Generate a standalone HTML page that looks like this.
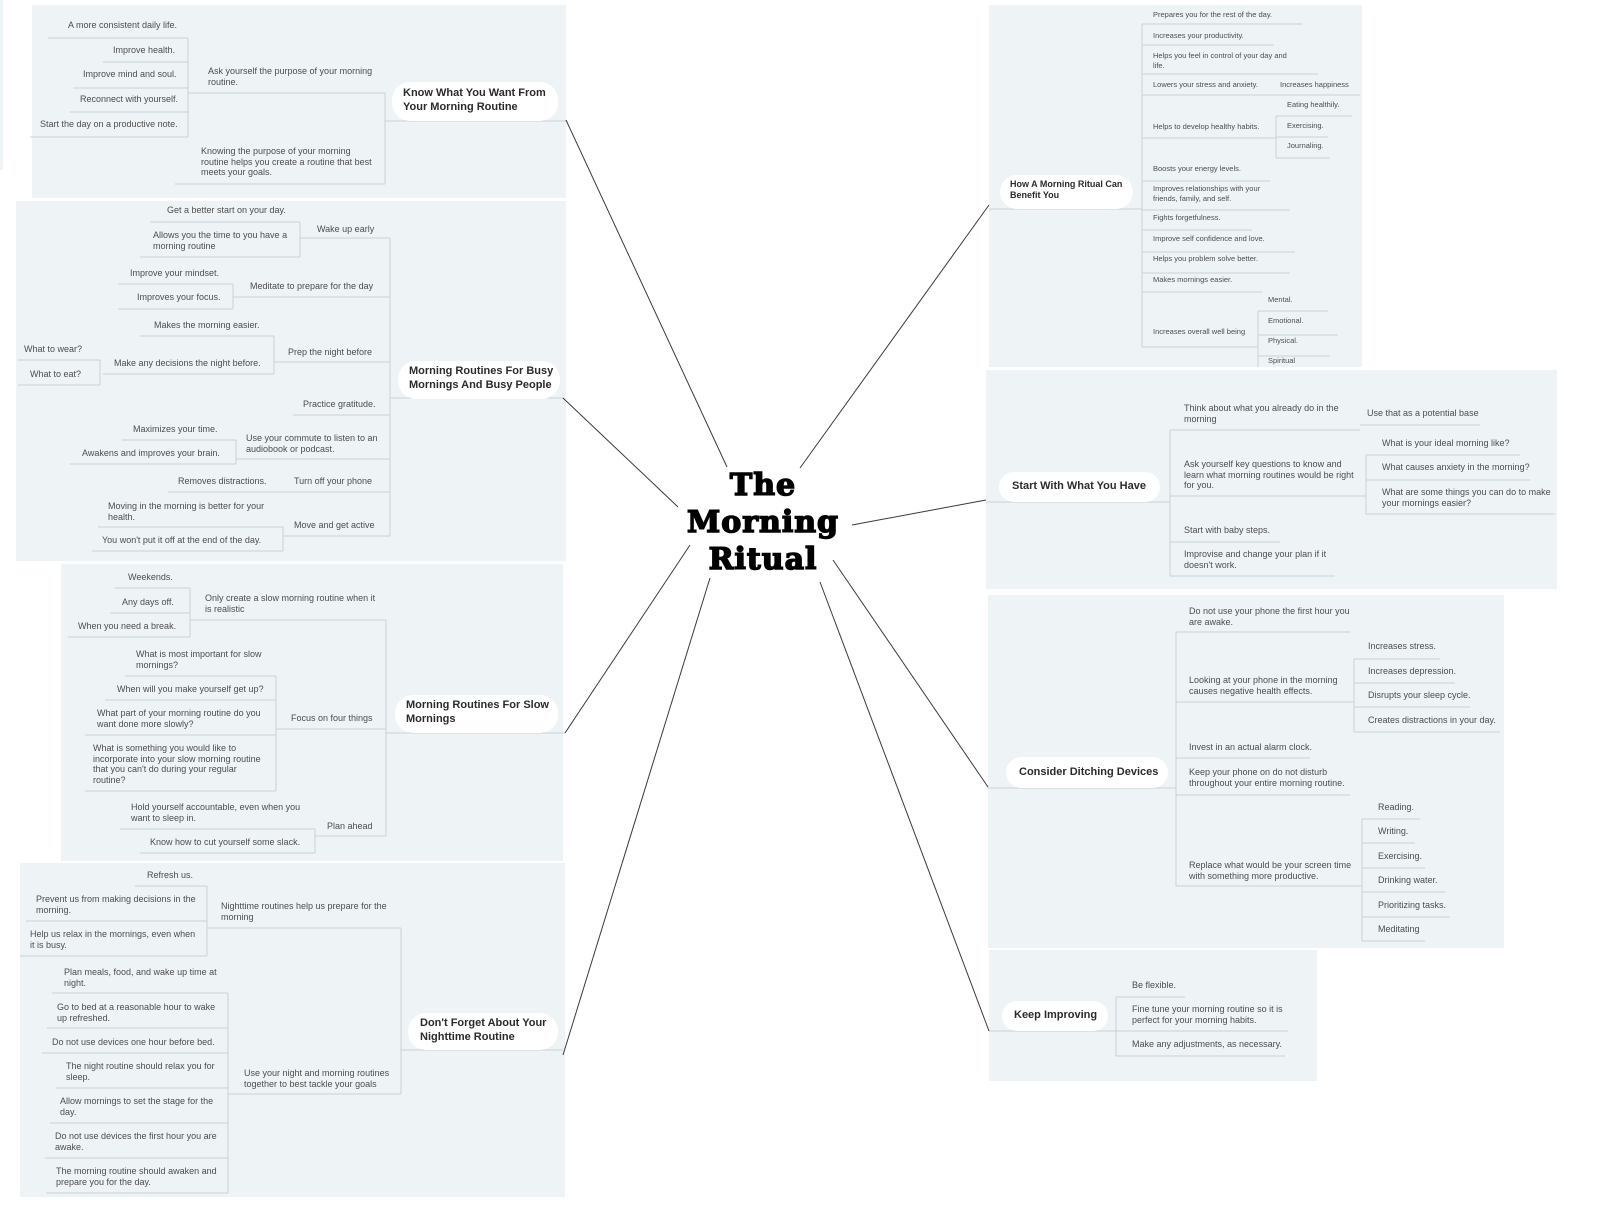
<!DOCTYPE html>
<html><head><meta charset="utf-8"><style>
body{margin:0;width:1600px;height:1228px;background:#fff;position:relative;overflow:hidden;font-family:"Liberation Sans",sans-serif}
.p{position:absolute;background:#eef3f6}
.pill{position:absolute;background:#fff;border-radius:18px}
.t{position:absolute;font-size:9px;line-height:10.5px;color:#4d4d4d;white-space:nowrap}
.s{position:absolute;font-size:7.5px;line-height:9.5px;color:#4d4d4d;white-space:nowrap}
.h{position:absolute;font-size:11px;line-height:13.5px;font-weight:bold;color:#2b2b2b;white-space:nowrap}
.c{position:absolute;left:663px;width:200px;text-align:center;font-family:"DejaVu Serif",serif;font-weight:bold;font-size:30px;line-height:37px;color:#000;-webkit-text-stroke:1.5px #000;letter-spacing:1px}
svg{position:absolute;left:0;top:0}
</style></head><body>
<div class="p" style="left:0;top:0;width:3px;height:170px"></div>
<div class="p" style="left:32px;top:5px;width:534px;height:193px"></div>
<div class="p" style="left:16px;top:201px;width:550px;height:360px"></div>
<div class="p" style="left:61px;top:564px;width:502px;height:297px"></div>
<div class="p" style="left:20px;top:863px;width:545px;height:334px"></div>
<div class="p" style="left:989px;top:5px;width:373px;height:362px"></div>
<div class="p" style="left:986px;top:370px;width:571px;height:219px"></div>
<div class="p" style="left:988px;top:595px;width:516px;height:353px"></div>
<div class="p" style="left:989px;top:950px;width:328px;height:131px"></div>

<svg width="1600" height="1228">
<g fill="none" stroke="#c9d0d4" stroke-width="1">
<path d="M48 38H188 M103 62H188 M73 88H188 M70 112H188 M30 137H188 M188 38V137 M188 93H385 M175 184H385 M385 93V184 M385 121H566"/>
<path d="M150 222H300 M140 257H300 M300 222V257 M300 238H390 M118 284H233 M118 309H233 M233 284V309 M233 297H390 M140 336H274 M103 374H274 M274 336V374 M274 362H390 M18 360H100 M18 385H100 M100 360V385 M293 415H390 M122 440H236 M70 464H236 M236 440V464 M236 459H390 M168 492H390 M98 527H283 M92 551H283 M283 527V551 M283 536H390 M390 238V536 M390 398H563"/>
<path d="M115 588H190 M110 613H190 M68 637H190 M190 588V637 M190 620H386 M125 676H276 M105 700H276 M85 735H276 M85 791H276 M276 676V791 M276 729H386 M120 829H315 M140 853H315 M315 829V853 M315 836H386 M386 620V836 M386 733H565"/>
<path d="M135 886H207 M26 921H207 M20 956H207 M207 886V956 M207 928H401 M52 993H228 M47 1028H228 M42 1053H228 M56 1088H228 M50 1123H228 M45 1158H228 M46 1193H228 M228 993V1193 M228 1094H401 M401 928V1094 M401 1050H563"/>
<path d="M989 209H1142 M1142 24V347 M1142 24H1302 M1142 45H1274 M1142 74H1318 M1142 95H1360 M1142 138H1276 M1276 116V158 M1276 116H1352 M1276 137H1328 M1276 158H1330 M1142 181H1270 M1142 210H1290 M1142 230H1252 M1142 252H1295 M1142 273H1290 M1142 292H1262 M1142 347H1258 M1258 311V367 M1258 311H1328 M1258 335H1338 M1258 356H1330"/>
<path d="M986 502H1170 M1170 430V576 M1170 430H1360 M1360 425H1480 M1170 496H1366 M1366 455V514 M1366 455H1520 M1366 480H1530 M1366 514H1555 M1170 542H1280 M1170 576H1335"/>
<path d="M988 788H1176 M1176 632V886 M1176 632H1350 M1176 702H1354 M1354 659V732 M1354 659H1440 M1354 683H1455 M1354 707H1470 M1354 732H1500 M1176 758H1310 M1176 795H1350 M1176 886H1362 M1362 819V941 M1362 819H1420 M1362 843H1415 M1362 868H1425 M1362 892H1445 M1362 917H1450 M1362 941H1425"/>
<path d="M989 1031H1116 M1116 997V1056 M1116 997H1185 M1116 1031H1288 M1116 1056H1285"/>
</g>
<g stroke="#3a3a3a" stroke-width="1">
<line x1="727" y1="467" x2="566" y2="120"/>
<line x1="678" y1="507" x2="563" y2="398"/>
<line x1="690" y1="545" x2="565" y2="733"/>
<line x1="710" y1="578" x2="563" y2="1055"/>
<line x1="800" y1="468" x2="989" y2="205"/>
<line x1="852" y1="525" x2="986" y2="500"/>
<line x1="833" y1="560" x2="988" y2="787"/>
<line x1="820" y1="582" x2="989" y2="1031"/>
</g>
</svg>

<div class="c" style="top:467px">The<br>Morning<br>Ritual</div>

<div class="pill" style="left:392px;top:82px;width:166px;height:39px"></div>
<div class="h" style="left:403px;top:87px">Know What You Want From<br>Your Morning Routine</div>
<div class="pill" style="left:398px;top:361px;width:162px;height:38px"></div>
<div class="h" style="left:409px;top:365px">Morning Routines For Busy<br>Mornings And Busy People</div>
<div class="pill" style="left:395px;top:695px;width:163px;height:38px"></div>
<div class="h" style="left:406px;top:699px">Morning Routines For Slow<br>Mornings</div>
<div class="pill" style="left:408px;top:1013px;width:150px;height:37px"></div>
<div class="h" style="left:420px;top:1017px">Don't Forget About Your<br>Nighttime Routine</div>
<div class="pill" style="left:1000px;top:175px;width:133px;height:34px"></div>
<div class="h" style="left:1010px;top:179px;font-size:9px;line-height:11px">How A Morning Ritual Can<br>Benefit You</div>
<div class="pill" style="left:999px;top:472px;width:161px;height:30px"></div>
<div class="h" style="left:1012px;top:480px">Start With What You Have</div>
<div class="pill" style="left:1006px;top:757px;width:162px;height:31px"></div>
<div class="h" style="left:1019px;top:766px">Consider Ditching Devices</div>
<div class="pill" style="left:1002px;top:1001px;width:106px;height:30px"></div>
<div class="h" style="left:1014px;top:1009px">Keep Improving</div>

<div class="t" style="left:68px;top:20px">A more consistent daily life.</div>
<div class="t" style="left:113px;top:45px">Improve health.</div>
<div class="t" style="left:83px;top:69px">Improve mind and soul.</div>
<div class="t" style="left:80px;top:94px">Reconnect with yourself.</div>
<div class="t" style="left:40px;top:119px">Start the day on a productive note.</div>
<div class="t" style="left:208px;top:66px">Ask yourself the purpose of your morning<br>routine.</div>
<div class="t" style="left:201px;top:146px">Knowing the purpose of your morning<br>routine helps you create a routine that best<br>meets your goals.</div>

<div class="t" style="left:167px;top:205px">Get a better start on your day.</div>
<div class="t" style="left:153px;top:230px">Allows you the time to you have a<br>morning routine</div>
<div class="t" style="left:317px;top:224px">Wake up early</div>
<div class="t" style="left:130px;top:268px">Improve your mindset.</div>
<div class="t" style="left:137px;top:292px">Improves your focus.</div>
<div class="t" style="left:250px;top:281px">Meditate to prepare for the day</div>
<div class="t" style="left:154px;top:320px">Makes the morning easier.</div>
<div class="t" style="left:24px;top:344px">What to wear?</div>
<div class="t" style="left:30px;top:369px">What to eat?</div>
<div class="t" style="left:114px;top:358px">Make any decisions the night before.</div>
<div class="t" style="left:288px;top:347px">Prep the night before</div>
<div class="t" style="left:303px;top:399px">Practice gratitude.</div>
<div class="t" style="left:133px;top:424px">Maximizes your time.</div>
<div class="t" style="left:82px;top:448px">Awakens and improves your brain.</div>
<div class="t" style="left:246px;top:433px">Use your commute to listen to an<br>audiobook or podcast.</div>
<div class="t" style="left:178px;top:476px">Removes distractions.</div>
<div class="t" style="left:294px;top:476px">Turn off your phone</div>
<div class="t" style="left:108px;top:501px">Moving in the morning is better for your<br>health.</div>
<div class="t" style="left:102px;top:535px">You won't put it off at the end of the day.</div>
<div class="t" style="left:294px;top:520px">Move and get active</div>

<div class="t" style="left:128px;top:572px">Weekends.</div>
<div class="t" style="left:122px;top:597px">Any days off.</div>
<div class="t" style="left:78px;top:621px">When you need a break.</div>
<div class="t" style="left:205px;top:593px">Only create a slow morning routine when it<br>is realistic</div>
<div class="t" style="left:136px;top:649px">What is most important for slow<br>mornings?</div>
<div class="t" style="left:117px;top:684px">When will you make yourself get up?</div>
<div class="t" style="left:97px;top:708px">What part of your morning routine do you<br>want done more slowly?</div>
<div class="t" style="left:93px;top:743px">What is something you would like to<br>incorporate into your slow morning routine<br>that you can't do during your regular<br>routine?</div>
<div class="t" style="left:291px;top:713px">Focus on four things</div>
<div class="t" style="left:131px;top:802px">Hold yourself accountable, even when you<br>want to sleep in.</div>
<div class="t" style="left:150px;top:837px">Know how to cut yourself some slack.</div>
<div class="t" style="left:327px;top:821px">Plan ahead</div>

<div class="t" style="left:147px;top:870px">Refresh us.</div>
<div class="t" style="left:36px;top:894px">Prevent us from making decisions in the<br>morning.</div>
<div class="t" style="left:30px;top:929px">Help us relax in the mornings, even when<br>it is busy.</div>
<div class="t" style="left:221px;top:901px">Nighttime routines help us prepare for the<br>morning</div>
<div class="t" style="left:64px;top:967px">Plan meals, food, and wake up time at<br>night.</div>
<div class="t" style="left:57px;top:1002px">Go to bed at a reasonable hour to wake<br>up refreshed.</div>
<div class="t" style="left:52px;top:1037px">Do not use devices one hour before bed.</div>
<div class="t" style="left:66px;top:1061px">The night routine should relax you for<br>sleep.</div>
<div class="t" style="left:60px;top:1096px">Allow mornings to set the stage for the<br>day.</div>
<div class="t" style="left:55px;top:1131px">Do not use devices the first hour you are<br>awake.</div>
<div class="t" style="left:56px;top:1166px">The morning routine should awaken and<br>prepare you for the day.</div>
<div class="t" style="left:244px;top:1068px">Use your night and morning routines<br>together to best tackle your goals</div>

<div class="s" style="left:1153px;top:10px">Prepares you for the rest of the day.</div>
<div class="s" style="left:1153px;top:31px">Increases your productivity.</div>
<div class="s" style="left:1153px;top:51px">Helps you feel in control of your day and<br>life.</div>
<div class="s" style="left:1153px;top:80px">Lowers your stress and anxiety.</div>
<div class="s" style="left:1280px;top:80px">Increases happiness</div>
<div class="s" style="left:1153px;top:122px">Helps to develop healthy habits.</div>
<div class="s" style="left:1287px;top:100px">Eating healthily.</div>
<div class="s" style="left:1287px;top:121px">Exercising.</div>
<div class="s" style="left:1287px;top:141px">Journaling.</div>
<div class="s" style="left:1153px;top:164px">Boosts your energy levels.</div>
<div class="s" style="left:1153px;top:184px">Improves relationships with your<br>friends, family, and self.</div>
<div class="s" style="left:1153px;top:213px">Fights forgetfulness.</div>
<div class="s" style="left:1153px;top:234px">Improve self confidence and love.</div>
<div class="s" style="left:1153px;top:254px">Helps you problem solve better.</div>
<div class="s" style="left:1153px;top:275px">Makes mornings easier.</div>
<div class="s" style="left:1153px;top:327px">Increases overall well being</div>
<div class="s" style="left:1268px;top:295px">Mental.</div>
<div class="s" style="left:1268px;top:316px">Emotional.</div>
<div class="s" style="left:1268px;top:336px">Physical.</div>
<div class="s" style="left:1268px;top:356px">Spiritual</div>

<div class="t" style="left:1184px;top:403px">Think about what you already do in the<br>morning</div>
<div class="t" style="left:1367px;top:408px">Use that as a potential base</div>
<div class="t" style="left:1184px;top:459px">Ask yourself key questions to know and<br>learn what morning routines would be right<br>for you.</div>
<div class="t" style="left:1382px;top:438px">What is your ideal morning like?</div>
<div class="t" style="left:1382px;top:462px">What causes anxiety in the morning?</div>
<div class="t" style="left:1382px;top:487px">What are some things you can do to make<br>your mornings easier?</div>
<div class="t" style="left:1184px;top:525px">Start with baby steps.</div>
<div class="t" style="left:1184px;top:549px">Improvise and change your plan if it<br>doesn't work.</div>

<div class="t" style="left:1189px;top:606px">Do not use your phone the first hour you<br>are awake.</div>
<div class="t" style="left:1189px;top:675px">Looking at your phone in the morning<br>causes negative health effects.</div>
<div class="t" style="left:1368px;top:641px">Increases stress.</div>
<div class="t" style="left:1368px;top:666px">Increases depression.</div>
<div class="t" style="left:1368px;top:690px">Disrupts your sleep cycle.</div>
<div class="t" style="left:1368px;top:715px">Creates distractions in your day.</div>
<div class="t" style="left:1189px;top:742px">Invest in an actual alarm clock.</div>
<div class="t" style="left:1189px;top:767px">Keep your phone on do not disturb<br>throughout your entire morning routine.</div>
<div class="t" style="left:1189px;top:860px">Replace what would be your screen time<br>with something more productive.</div>
<div class="t" style="left:1378px;top:802px">Reading.</div>
<div class="t" style="left:1378px;top:826px">Writing.</div>
<div class="t" style="left:1378px;top:851px">Exercising.</div>
<div class="t" style="left:1378px;top:875px">Drinking water.</div>
<div class="t" style="left:1378px;top:900px">Prioritizing tasks.</div>
<div class="t" style="left:1378px;top:924px">Meditating</div>

<div class="t" style="left:1132px;top:980px">Be flexible.</div>
<div class="t" style="left:1132px;top:1004px">Fine tune your morning routine so it is<br>perfect for your morning habits.</div>
<div class="t" style="left:1132px;top:1039px">Make any adjustments, as necessary.</div>
</body></html>
